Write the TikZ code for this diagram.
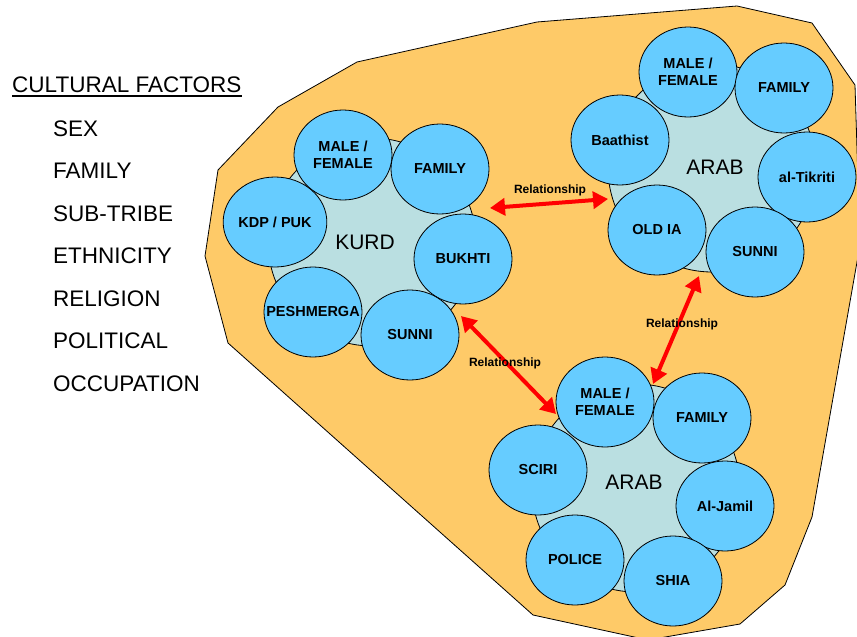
\documentclass[tikz,border=0pt]{standalone}
\usepackage{fontspec}
\setmainfont{Liberation Sans}
\usetikzlibrary{shapes.geometric,arrows.meta}

\definecolor{orangebg}{RGB}{254,202,104}
\definecolor{groupbg}{RGB}{186,223,225}
\definecolor{factorblue}{RGB}{102,204,255}
\definecolor{relred}{RGB}{255,0,0}

\tikzset{
  factor/.style={draw=black, line width=0.8pt, fill=factorblue, ellipse, minimum width=98pt,
    minimum height=90pt, inner sep=0pt, align=center,
    font=\fontsize{14.5}{17}\selectfont\bfseries},
  group/.style={draw=black, line width=0.8pt, fill=groupbg, circle, minimum size=208pt, inner sep=0pt},
  grouplabel/.style={font=\fontsize{21}{25}\selectfont},
  rel/.style={relred, line width=4pt,
    {Triangle[length=15pt,width=17pt]}-{Triangle[length=15pt,width=17pt]}},
  rellabel/.style={font=\fontsize{12}{14}\selectfont\bfseries},
  factoritem/.style={anchor=base west, inner sep=0pt, font=\fontsize{22.5}{26}\selectfont},
}

\begin{document}
\begin{tikzpicture}[x=1pt, y=-1pt]
  \useasboundingbox (0,0) rectangle (857,637);

  % orange area
  \filldraw[fill=orangebg, draw=black, line width=0.8pt]
    (218,170) -- (278,107) -- (357,62) -- (537,22) -- (737,6) -- (812,23) -- (855,85)
    -- (860,245) -- (812,517) -- (785,585) -- (740,624) -- (648,640) -- (533,615)
    -- (228,343) -- (205,256) -- cycle;

  % cultural factors
  \node[factoritem] (title) at (12,92) {CULTURAL FACTORS};
  \draw[line width=1.5pt] ([yshift=-4pt]title.base west) -- ([yshift=-4pt]title.base east);
  \foreach \txt [count=\i] in {SEX,FAMILY,SUB-TRIBE,ETHNICITY,RELIGION,POLITICAL,OCCUPATION}
    \node[factoritem] (item\i) at (53,{136+42.5*(\i-1)}) {\txt};

  % groups
  \node[group] (kurd) at (372,242) {};
  \node[group] (arabn) at (712,168) {};
  \node[group] (arabs) at (636,488) {};
  \node[grouplabel] (kurdlabel) at (365,242) {KURD};
  \node[grouplabel] (arabnlabel) at (715,167) {ARAB};
  \node[grouplabel] (arabslabel) at (634,482) {ARAB};

  % KURD
  \node[factor] (kmale) at (343,155) {MALE /\\FEMALE};
  \node[factor] (kfamily) at (440,169) {FAMILY};
  \node[factor] (kkdp) at (275,222) {KDP / PUK};
  \node[factor] (kbukhti) at (463,259) {BUKHTI};
  \node[factor] (kpesh) at (313,312) {\makebox[0pt][c]{PESHMERGA}};
  \node[factor] (ksunni) at (410,335) {SUNNI};

  % ARAB (north)
  \node[factor] (anmale) at (688,72) {MALE /\\FEMALE};
  \node[factor] (anfamily) at (784,88) {FAMILY};
  \node[factor] (anbaath) at (620,140) {Baathist};
  \node[factor] (antikriti) at (807,177) {al-Tikriti};
  \node[factor] (anold) at (657,230) {OLD IA};
  \node[factor] (ansunni) at (755,252) {SUNNI};

  % ARAB (south)
  \node[factor] (asmale) at (605,402) {MALE /\\FEMALE};
  \node[factor] (asfamily) at (702,418) {FAMILY};
  \node[factor] (assciri) at (538,470) {SCIRI};
  \node[factor] (asjamil) at (725,506) {Al-Jamil};
  \node[factor] (aspolice) at (575,560) {POLICE};
  \node[factor] (asshia) at (673,581) {SHIA};

  % relationships
  \coordinate (relkn) at (490,208);
  \coordinate (relnk) at (608,199);
  \coordinate (relks) at (461,316);
  \coordinate (relsk) at (556,414);
  \coordinate (relns) at (699,276);
  \coordinate (relsn) at (653,384);
  \draw[rel] (relkn) -- (relnk);
  \draw[rel] (relks) -- (relsk);
  \draw[rel] (relns) -- (relsn);
  \node[rellabel] (lblkn) at (550,190) {Relationship};
  \node[rellabel] (lblks) at (505,363) {Relationship};
  \node[rellabel] (lblns) at (682,324) {Relationship};
\end{tikzpicture}
\end{document}
